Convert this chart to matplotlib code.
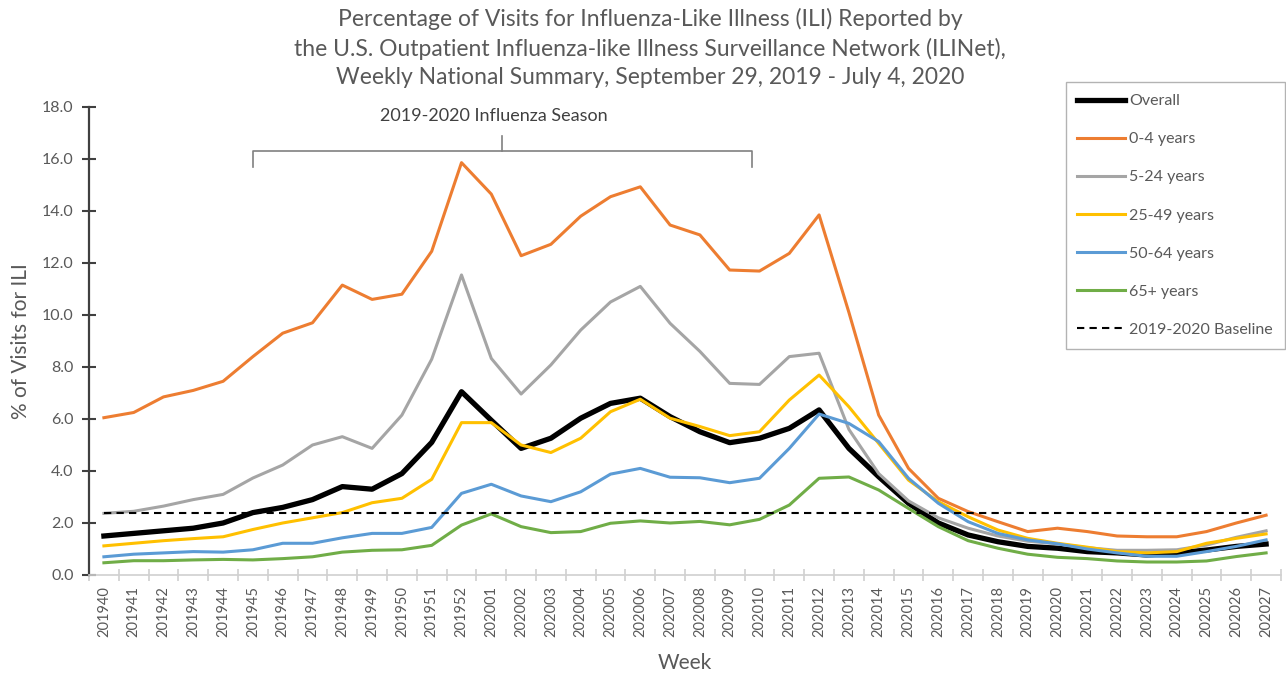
import matplotlib
matplotlib.use("Agg")
import matplotlib.pyplot as plt
import numpy as np

weeks = ["201940","201941","201942","201943","201944","201945","201946","201947","201948","201949",
         "201950","201951","201952","202001","202002","202003","202004","202005","202006","202007",
         "202008","202009","202010","202011","202012","202013","202014","202015","202016","202017",
         "202018","202019","202020","202021","202022","202023","202024","202025","202026","202027"]

overall = [1.5, 1.6, 1.7, 1.8, 2.0, 2.4, 2.6, 2.9, 3.4, 3.3,
           3.9, 5.1, 7.05, 5.95, 4.87, 5.26, 6.03, 6.6, 6.8, 6.09,
           5.51, 5.09, 5.26, 5.64, 6.35, 4.87, 3.78, 2.76, 2.0, 1.54,
           1.28, 1.1, 1.03, 0.9, 0.85, 0.77, 0.85, 0.96, 1.1, 1.19]
age_0_4 = [6.05, 6.25, 6.85, 7.1, 7.45, 8.4, 9.3, 9.7, 11.15, 10.6,
           10.8, 12.45, 15.86, 14.65, 12.28, 12.72, 13.8, 14.55, 14.93, 13.46,
           13.08, 11.73, 11.69, 12.37, 13.85, 10.1, 6.15, 4.1, 2.95, 2.44,
           2.05, 1.67, 1.8, 1.67, 1.5, 1.47, 1.47, 1.67, 2.0, 2.3]
age_5_24 = [2.37, 2.45, 2.65, 2.9, 3.1, 3.73, 4.23, 5.0, 5.32, 4.87,
            6.15, 8.3, 11.54, 8.33, 6.96, 8.08, 9.42, 10.5, 11.1, 9.68,
            8.6, 7.37, 7.33, 8.4, 8.53, 5.6, 3.9, 2.85, 2.2, 1.8,
            1.5, 1.3, 1.2, 1.05, 0.95, 0.95, 0.97, 1.15, 1.45, 1.7]
age_25_49 = [1.12, 1.22, 1.32, 1.4, 1.47, 1.75, 2.0, 2.2, 2.4, 2.78,
             2.95, 3.68, 5.86, 5.86, 5.0, 4.71, 5.26, 6.28, 6.76, 6.03,
             5.71, 5.36, 5.51, 6.73, 7.69, 6.47, 5.06, 3.65, 2.82, 2.24,
             1.73, 1.41, 1.22, 1.07, 0.9, 0.85, 0.9, 1.22, 1.41, 1.58]
age_50_64 = [0.7, 0.8, 0.85, 0.9, 0.88, 0.97, 1.22, 1.22, 1.43, 1.6,
             1.6, 1.83, 3.14, 3.49, 3.04, 2.82, 3.2, 3.88, 4.1, 3.76,
             3.74, 3.55, 3.72, 4.87, 6.19, 5.83, 5.13, 3.72, 2.76, 2.05,
             1.6, 1.35, 1.2, 1.0, 0.85, 0.72, 0.72, 0.9, 1.1, 1.35]
age_65 = [0.47, 0.55, 0.55, 0.58, 0.6, 0.58, 0.63, 0.7, 0.88, 0.95,
          0.97, 1.14, 1.92, 2.35, 1.86, 1.63, 1.67, 1.99, 2.08, 2.0,
          2.06, 1.93, 2.14, 2.69, 3.72, 3.77, 3.27, 2.56, 1.86, 1.32,
          1.03, 0.8, 0.68, 0.63, 0.54, 0.5, 0.5, 0.54, 0.71, 0.85]
baseline = 2.4

series = [
    ("Overall", overall, "#000000", 3.8),
    ("0-4 years", age_0_4, "#ED7D31", 2.2),
    ("5-24 years", age_5_24, "#A5A5A5", 2.2),
    ("25-49 years", age_25_49, "#FFC000", 2.2),
    ("50-64 years", age_50_64, "#5B9BD5", 2.2),
    ("65+ years", age_65, "#70AD47", 2.2),
]

plt.rcParams['font.family'] = ['Lato', 'DejaVu Sans']
txt = "#595959"

fig = plt.figure(figsize=(12.86, 6.73), dpi=100)
ax = fig.add_axes([89/1286, 1-575/673, (1281-89)/1286, (575-107)/673])

x = np.arange(len(weeks))
for i, (name, vals, col, lw) in enumerate(series):
    ax.plot(x, vals, color=col, lw=lw, label=name, zorder=2+i, solid_joinstyle='round')
ax.plot([x[0], x[-1]], [baseline, baseline], color="#000000", lw=1.5, ls=(0, (3.5, 2.5)),
        label="2019-2020 Baseline", zorder=10)

ax.set_xlim(-0.5, len(weeks) - 0.5)
ax.set_ylim(0, 18)
ax.set_yticks(np.arange(0, 18.1, 2))
ax.set_yticklabels([f"{v:.1f}" for v in np.arange(0, 18.1, 2)], color=txt, fontsize=11.5)
ax.set_xticks(x)
ax.set_xticklabels(weeks, rotation=90, color=txt, fontsize=10.5)
ax.set_xticks(np.arange(-0.5, len(weeks), 1), minor=True)
ax.tick_params(axis='x', which='major', length=0, pad=8)
ax.tick_params(axis='x', which='minor', length=8, color="#D0D0D0", width=1.2, direction='inout')
ax.tick_params(axis='y', which='major', length=10, width=1.5, color="#404040", direction='inout', pad=6)

for s in ['top', 'right']:
    ax.spines[s].set_visible(False)
ax.spines['left'].set_color("#404040")
ax.spines['left'].set_linewidth(1.6)
ax.spines['bottom'].set_color("#D0D0D0")
ax.spines['bottom'].set_linewidth(1.2)

ax.set_ylabel("% of Visits for ILI", color=txt, fontsize=15, labelpad=8)
fig.text(685/1286, 1-663/673, "Week", color=txt, fontsize=15, ha='center', va='center')

title = ("Percentage of Visits for Influenza-Like Illness (ILI) Reported by\n"
         "the U.S. Outpatient Influenza-like Illness Surveillance Network (ILINet),\n"
         "Weekly National Summary, September 29, 2019 - July 4, 2020")
fig.text(650/1286, 1-48/673, title, color=txt, fontsize=16.5, ha='center', va='center',
         linespacing=1.4)

# season bracket
bl, br = 5.0, 21.75
bc = (bl + br) / 2
ax.plot([bl, bl, br, br], [15.7, 16.3, 16.3, 15.7], color="#808080", lw=1.2, clip_on=False)
ax.plot([bc, bc], [16.3, 16.9], color="#808080", lw=1.2, clip_on=False)
ax.text(bc - 0.3, 17.65, "2019-2020 Influenza Season", ha='center', va='center',
        fontsize=13, color="#404040")

leg = ax.legend(loc='upper right', bbox_to_anchor=(1285/1286, 1-82/673),
                bbox_transform=fig.transFigure, frameon=True, fancybox=False,
                fontsize=11.5, labelspacing=1.5, handlelength=3.0, handletextpad=0.25,
                borderpad=0.75, borderaxespad=0)
leg.get_frame().set_edgecolor("#A0A0A0")
leg.get_frame().set_linewidth(1.0)
for t in leg.get_texts():
    t.set_color(txt)

fig.savefig("out.png", dpi=100)
